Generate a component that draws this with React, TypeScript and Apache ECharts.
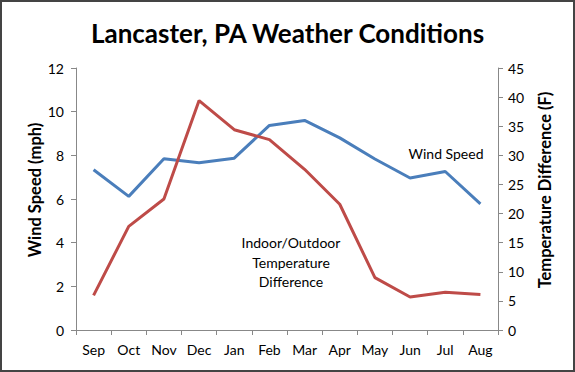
import React, { useEffect, useRef } from "react";
import * as echarts from "echarts";

const months = ["Sep", "Oct", "Nov", "Dec", "Jan", "Feb", "Mar", "Apr", "May", "Jun", "Jul", "Aug"];
const windSpeed = [7.34, 6.12, 7.84, 7.66, 7.87, 9.37, 9.6, 8.8, 7.83, 6.96, 7.26, 5.78];
const tempDiff = [5.95, 17.8, 22.5, 39.4, 34.4, 32.7, 27.6, 21.6, 9.0, 5.66, 6.5, 6.1];

const leftAxisName = "Wind Speed (mph)";
const rightAxisName = "Temperature Difference (F)";

const FONT = "Lato";

export default function App() {
  const ref = useRef<HTMLDivElement>(null);
  useEffect(() => {
    document.body.style.margin = "0";
    const chart = echarts.init(ref.current!, null, { renderer: "svg" });
    const nameStyle = {
      fontFamily: FONT,
      fontSize: 16.5,
      fontWeight: "bold",
      fill: "#000",
      align: "center",
      verticalAlign: "middle",
    };
    chart.setOption({
      animation: false,
      backgroundColor: "#ffffff",
      textStyle: { fontFamily: FONT },
      title: {
        text: "Lancaster, PA Weather Conditions",
        left: "center",
        top: 15,
        textStyle: { fontFamily: FONT, fontSize: 26, fontWeight: "bold", color: "#000" },
      },
      grid: { left: 76, right: 77, top: 68, bottom: 42 },
      xAxis: {
        type: "category",
        data: months,
        boundaryGap: true,
        axisLine: { lineStyle: { color: "#888", width: 1 } },
        axisTick: { show: true, alignWithLabel: false, length: 5, lineStyle: { color: "#888" } },
        axisLabel: { color: "#000", fontSize: 14, margin: 12, fontFamily: FONT },
      },
      yAxis: [
        {
          type: "value",
          min: 0,
          max: 12,
          interval: 2,
          axisLine: { show: true, lineStyle: { color: "#888" } },
          axisTick: { show: true, length: 5, lineStyle: { color: "#888" } },
          axisLabel: { color: "#000", fontSize: 14, margin: 12, fontFamily: FONT },
          splitLine: { show: false },
        },
        {
          type: "value",
          min: 0,
          max: 45,
          interval: 5,
          position: "right",
          axisLine: { show: true, lineStyle: { color: "#888" } },
          axisTick: { show: true, length: 5, lineStyle: { color: "#888" } },
          axisLabel: { color: "#000", fontSize: 14, margin: 10, fontFamily: FONT },
          splitLine: { show: false },
        },
      ],
      series: [
        {
          name: "Wind Speed",
          type: "line",
          data: windSpeed,
          yAxisIndex: 0,
          symbol: "none",
          lineStyle: { color: "#4a7ebb", width: 3 },
          itemStyle: { color: "#4a7ebb" },
        },
        {
          name: "Indoor/Outdoor Temperature Difference",
          type: "line",
          data: tempDiff,
          yAxisIndex: 1,
          symbol: "none",
          lineStyle: { color: "#be4b48", width: 3 },
          itemStyle: { color: "#be4b48" },
        },
      ],
      graphic: [
        {
          type: "text",
          x: 35,
          y: 190,
          rotation: Math.PI / 2,
          style: { ...nameStyle, text: leftAxisName },
        },
        {
          type: "text",
          x: 545,
          y: 190,
          rotation: Math.PI / 2,
          style: { ...nameStyle, text: rightAxisName },
        },
        {
          type: "text",
          x: 446,
          y: 153,
          style: {
            text: "Wind Speed",
            fontFamily: FONT,
            fontSize: 14,
            fill: "#000",
            align: "center",
            verticalAlign: "middle",
          },
        },
        {
          type: "text",
          x: 291,
          y: 262,
          style: {
            text: "Indoor/Outdoor\nTemperature\nDifference",
            fontFamily: FONT,
            fontSize: 14,
            lineHeight: 19.5,
            fill: "#000",
            align: "center",
            verticalAlign: "middle",
          },
        },
        {
          type: "rect",
          shape: { x: 1, y: 1, width: 573, height: 370 },
          style: { fill: "none", stroke: "#444", lineWidth: 2 },
        },
      ],
    });
    return () => chart.dispose();
  }, []);
  return <div ref={ref} style={{ width: 575, height: 372 }} />;
}
